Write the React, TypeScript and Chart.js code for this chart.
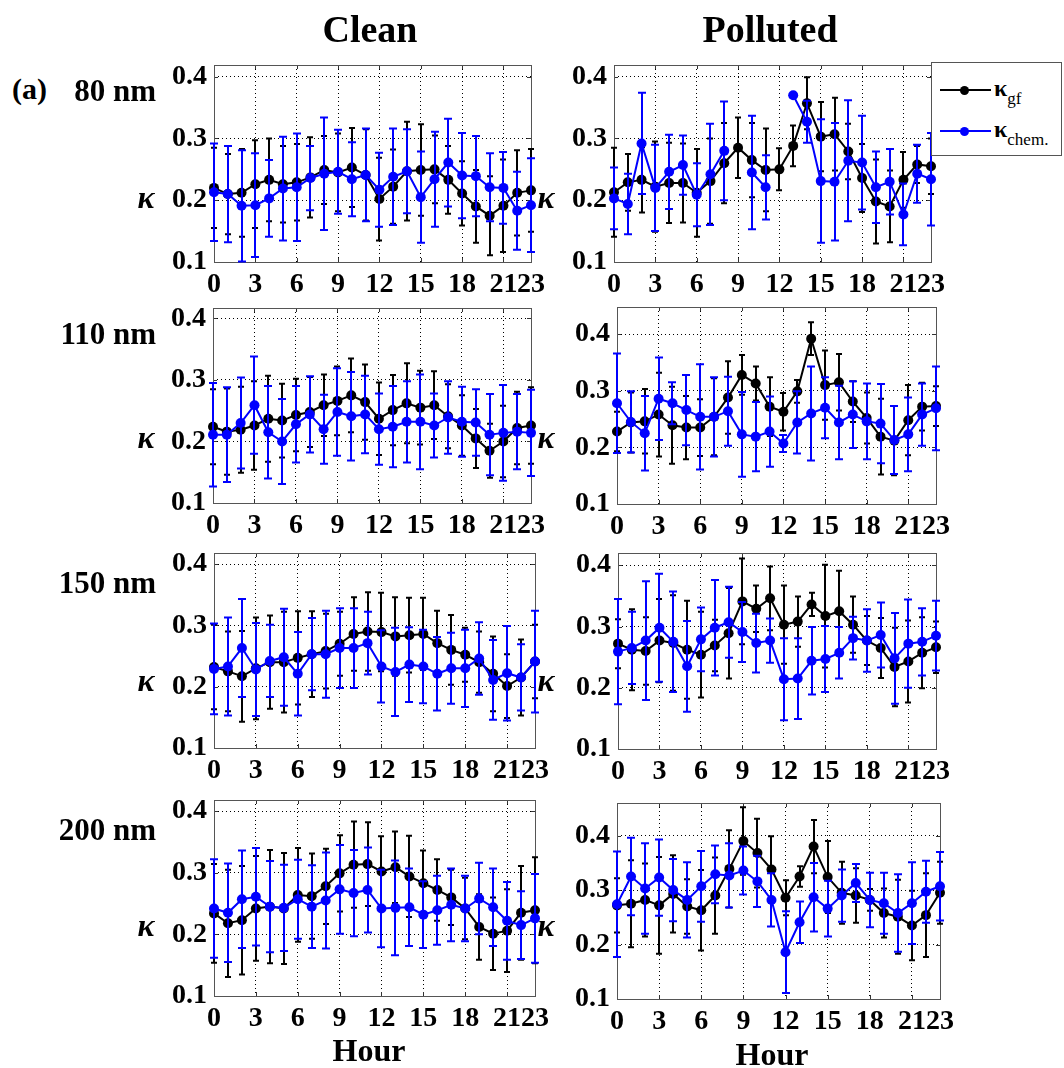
import React, { useEffect, useRef } from "react";
import { Chart, registerables } from "chart.js";
Chart.register(...registerables);

// ---------- data ----------
const hours = [0, 1, 2, 3, 4, 5, 6, 7, 8, 9, 10, 11, 12, 13, 14, 15, 16, 17, 18, 19, 20, 21, 22, 23];
const xTickValues = [0, 3, 6, 9, 12, 15, 18, 21, 23];
const yTickValues = [0.1, 0.2, 0.3, 0.4];
const seriesNames = ["κgf", "κchem."];
const columnTitles = ["Clean", "Polluted"];
const rowTitles = ["80 nm", "110 nm", "150 nm", "200 nm"];

// Clean, 80 nm
const clean80Gf = [0.220, 0.210, 0.212, 0.226, 0.233, 0.226, 0.229, 0.237, 0.249, 0.245, 0.253, 0.241, 0.202, 0.222, 0.247, 0.249, 0.250, 0.233, 0.211, 0.190, 0.175, 0.191, 0.212, 0.216];
const clean80GfErr = [0.065, 0.065, 0.071, 0.071, 0.067, 0.062, 0.062, 0.065, 0.055, 0.063, 0.064, 0.074, 0.067, 0.060, 0.080, 0.074, 0.055, 0.055, 0.052, 0.059, 0.064, 0.075, 0.069, 0.067];
const clean80Chem = [0.213, 0.210, 0.191, 0.192, 0.203, 0.219, 0.221, 0.236, 0.243, 0.246, 0.234, 0.241, 0.217, 0.238, 0.247, 0.205, 0.234, 0.261, 0.240, 0.239, 0.221, 0.220, 0.183, 0.192];
const clean80ChemErr = [0.079, 0.078, 0.090, 0.084, 0.062, 0.084, 0.087, 0.052, 0.091, 0.068, 0.060, 0.075, 0.060, 0.078, 0.068, 0.074, 0.077, 0.071, 0.069, 0.065, 0.055, 0.058, 0.063, 0.076];

// Polluted, 80 nm
const poll80Gf = [0.213, 0.229, 0.233, 0.222, 0.228, 0.228, 0.212, 0.231, 0.260, 0.285, 0.265, 0.249, 0.250, 0.288, 0.357, 0.303, 0.307, 0.279, 0.236, 0.198, 0.190, 0.233, 0.258, 0.255];
const poll80GfErr = [0.072, 0.046, 0.053, 0.073, 0.065, 0.064, 0.071, 0.069, 0.065, 0.049, 0.060, 0.067, 0.034, 0.033, 0.042, 0.056, 0.059, 0.045, 0.055, 0.068, 0.058, 0.045, 0.030, 0.045];
const poll80Chem = [0.203, 0.194, 0.292, 0.220, 0.246, 0.257, 0.209, 0.242, 0.280, null, 0.245, 0.221, null, 0.370, 0.327, 0.231, 0.230, 0.264, 0.261, 0.221, 0.230, 0.177, 0.243, 0.234];
const poll80ChemErr = [0.050, 0.049, 0.082, 0.070, 0.060, 0.048, 0.051, 0.082, 0.080, null, 0.092, 0.052, null, 0.000, 0.034, 0.100, 0.095, 0.098, 0.076, 0.058, 0.053, 0.050, 0.047, 0.075];

// Clean, 110 nm
const clean110Gf = [0.224, 0.216, 0.219, 0.226, 0.237, 0.234, 0.243, 0.248, 0.259, 0.266, 0.275, 0.264, 0.237, 0.251, 0.262, 0.255, 0.259, 0.241, 0.226, 0.205, 0.185, 0.200, 0.222, 0.226];
const clean110GfErr = [0.061, 0.070, 0.070, 0.072, 0.070, 0.060, 0.059, 0.057, 0.050, 0.056, 0.060, 0.061, 0.059, 0.057, 0.065, 0.060, 0.055, 0.052, 0.049, 0.048, 0.044, 0.058, 0.059, 0.062];
const clean110Chem = [0.211, 0.211, 0.230, 0.259, 0.215, 0.200, 0.228, 0.244, 0.220, 0.248, 0.241, 0.244, 0.220, 0.224, 0.232, 0.232, 0.226, 0.239, 0.232, 0.231, 0.211, 0.214, 0.216, 0.214];
const clean110ChemErr = [0.084, 0.077, 0.074, 0.079, 0.075, 0.069, 0.062, 0.062, 0.056, 0.071, 0.072, 0.063, 0.058, 0.066, 0.066, 0.077, 0.052, 0.059, 0.057, 0.054, 0.066, 0.078, 0.061, 0.070];

// Polluted, 110 nm
const poll110Gf = [0.228, 0.244, 0.246, 0.258, 0.239, 0.235, 0.235, 0.254, 0.288, 0.328, 0.313, 0.272, 0.263, 0.299, 0.392, 0.310, 0.315, 0.281, 0.252, 0.219, 0.212, 0.248, 0.272, 0.273];
const poll110GfErr = [0.035, 0.053, 0.057, 0.074, 0.068, 0.056, 0.050, 0.068, 0.064, 0.035, 0.030, 0.052, 0.033, 0.020, 0.029, 0.061, 0.050, 0.036, 0.045, 0.067, 0.061, 0.062, 0.042, 0.035];
const poll110Chem = [0.278, 0.245, 0.225, 0.286, 0.278, 0.266, 0.254, 0.254, 0.264, 0.223, 0.219, 0.228, 0.207, 0.244, 0.260, 0.270, 0.244, 0.258, 0.246, 0.242, 0.213, 0.223, 0.258, 0.269];
const poll110ChemErr = [0.088, 0.054, 0.066, 0.073, 0.037, 0.062, 0.093, 0.070, 0.061, 0.075, 0.061, 0.062, 0.015, 0.055, 0.083, 0.054, 0.065, 0.059, 0.067, 0.070, 0.060, 0.065, 0.055, 0.074];

// Clean, 150 nm
const clean150Gf = [0.232, 0.225, 0.217, 0.230, 0.240, 0.240, 0.247, 0.253, 0.258, 0.270, 0.286, 0.290, 0.289, 0.282, 0.284, 0.286, 0.271, 0.260, 0.252, 0.240, 0.221, 0.201, 0.215, 0.241];
const clean150GfErr = [0.069, 0.065, 0.074, 0.083, 0.076, 0.082, 0.076, 0.070, 0.061, 0.052, 0.060, 0.064, 0.064, 0.064, 0.061, 0.059, 0.053, 0.057, 0.044, 0.050, 0.061, 0.052, 0.062, 0.060];
const clean150Chem = [0.229, 0.233, 0.263, 0.228, 0.242, 0.248, 0.221, 0.253, 0.253, 0.263, 0.263, 0.271, 0.233, 0.224, 0.236, 0.233, 0.221, 0.230, 0.230, 0.246, 0.211, 0.222, 0.215, 0.241];
const clean150ChemErr = [0.074, 0.080, 0.080, 0.076, 0.059, 0.079, 0.068, 0.059, 0.071, 0.065, 0.065, 0.051, 0.059, 0.072, 0.061, 0.060, 0.060, 0.058, 0.063, 0.059, 0.065, 0.077, 0.054, 0.083];

// Polluted, 150 nm
const poll150Gf = [0.272, 0.262, 0.260, 0.277, 0.273, 0.262, 0.254, 0.269, 0.289, 0.341, 0.329, 0.346, 0.303, 0.308, 0.336, 0.317, 0.325, 0.303, 0.277, 0.265, 0.234, 0.243, 0.257, 0.266];
const poll150GfErr = [0.040, 0.066, 0.055, 0.068, 0.078, 0.080, 0.070, 0.042, 0.074, 0.070, 0.038, 0.052, 0.064, 0.041, 0.019, 0.084, 0.066, 0.046, 0.040, 0.049, 0.064, 0.067, 0.058, 0.042];
const poll150Chem = [0.259, 0.265, 0.277, 0.298, 0.275, 0.235, 0.279, 0.298, 0.307, 0.291, 0.273, 0.277, 0.214, 0.215, 0.244, 0.247, 0.257, 0.281, 0.277, 0.286, 0.248, 0.272, 0.275, 0.285];
const poll150ChemErr = [0.086, 0.059, 0.097, 0.088, 0.082, 0.074, 0.052, 0.078, 0.058, 0.049, 0.048, 0.036, 0.067, 0.066, 0.055, 0.054, 0.042, 0.035, 0.051, 0.053, 0.074, 0.072, 0.055, 0.057];

// Clean, 200 nm
const clean200Gf = [0.234, 0.218, 0.223, 0.242, 0.245, 0.242, 0.264, 0.262, 0.278, 0.299, 0.313, 0.314, 0.302, 0.309, 0.294, 0.283, 0.272, 0.260, 0.242, 0.212, 0.201, 0.206, 0.235, 0.239];
const clean200GfErr = [0.080, 0.087, 0.088, 0.085, 0.092, 0.090, 0.076, 0.069, 0.061, 0.062, 0.070, 0.068, 0.057, 0.058, 0.066, 0.053, 0.050, 0.045, 0.050, 0.053, 0.059, 0.067, 0.076, 0.086];
const clean200Chem = [0.242, 0.235, 0.257, 0.261, 0.245, 0.243, 0.257, 0.245, 0.255, 0.273, 0.267, 0.272, 0.242, 0.243, 0.244, 0.232, 0.239, 0.248, 0.242, 0.258, 0.244, 0.222, 0.215, 0.226];
const clean200ChemErr = [0.080, 0.080, 0.079, 0.079, 0.074, 0.070, 0.064, 0.067, 0.078, 0.072, 0.070, 0.069, 0.063, 0.077, 0.063, 0.054, 0.056, 0.059, 0.053, 0.058, 0.063, 0.063, 0.055, 0.072];

// Polluted, 200 nm
const poll200Gf = [0.272, 0.275, 0.282, 0.272, 0.293, 0.270, 0.263, 0.290, 0.339, 0.390, 0.368, 0.338, 0.286, 0.325, 0.380, 0.324, 0.295, 0.290, 0.282, 0.258, 0.251, 0.235, 0.254, 0.295];
const poll200GfErr = [0.050, 0.080, 0.067, 0.089, 0.071, 0.050, 0.074, 0.070, 0.071, 0.062, 0.063, 0.061, 0.032, 0.019, 0.049, 0.066, 0.057, 0.050, 0.020, 0.045, 0.068, 0.064, 0.077, 0.057];
const poll200Chem = [0.274, 0.325, 0.303, 0.323, 0.300, 0.282, 0.307, 0.329, 0.327, 0.336, 0.316, 0.282, 0.186, 0.241, 0.287, 0.266, 0.290, 0.313, 0.282, 0.276, 0.258, 0.276, 0.297, 0.307];
const poll200ChemErr = [0.097, 0.071, 0.083, 0.070, 0.057, 0.069, 0.065, 0.053, 0.059, 0.044, 0.047, 0.049, 0.075, 0.038, 0.063, 0.051, 0.048, 0.035, 0.050, 0.056, 0.071, 0.075, 0.057, 0.063];

// ---------- styling / layout ----------
const FONT = "'Liberation Serif', 'Times New Roman', serif";
const BLACK = "#000000";
const BLUE = "#0000ff";
const YW = 70; // width reserved for y tick labels
const XH = 45; // height reserved for x tick labels
const PADT = 20;
const PADR = 26;

const panels = [
  { gf: clean80Gf, gfErr: clean80GfErr, chem: clean80Chem, chemErr: clean80ChemErr, yMax: 0.419, left: 214, top: 65, right: 531, bottom: 262 },
  { gf: poll80Gf, gfErr: poll80GfErr, chem: poll80Chem, chemErr: poll80ChemErr, yMax: 0.419, left: 614, top: 65, right: 931, bottom: 262 },
  { gf: clean110Gf, gfErr: clean110GfErr, chem: clean110Chem, chemErr: clean110ChemErr, yMax: 0.417, left: 213, top: 308, right: 531, bottom: 503 },
  { gf: poll110Gf, gfErr: poll110GfErr, chem: poll110Chem, chemErr: poll110ChemErr, yMax: 0.448, left: 617, top: 307, right: 936, bottom: 504 },
  { gf: clean150Gf, gfErr: clean150GfErr, chem: clean150Chem, chemErr: clean150ChemErr, yMax: 0.418, left: 214, top: 553, right: 535, bottom: 748 },
  { gf: poll150Gf, gfErr: poll150GfErr, chem: poll150Chem, chemErr: poll150ChemErr, yMax: 0.42, left: 618, top: 553, right: 936, bottom: 749 },
  { gf: clean200Gf, gfErr: clean200GfErr, chem: clean200Chem, chemErr: clean200ChemErr, yMax: 0.418, left: 214, top: 800, right: 535, bottom: 996 },
  { gf: poll200Gf, gfErr: poll200GfErr, chem: poll200Chem, chemErr: poll200ChemErr, yMax: 0.46, left: 617, top: 803, right: 940, bottom: 999 },
];

const errorBarPlugin = {
  id: "errorBars",
  afterDatasetDraw(chart: any, args: any) {
    const ds: any = chart.data.datasets[args.index];
    const errs = ds.errors;
    if (!errs) return;
    const xs = chart.scales.x;
    const ys = chart.scales.y;
    const ctx = chart.ctx;
    ctx.save();
    ctx.strokeStyle = ds.borderColor;
    ctx.lineWidth = ds.errWidth;
    ctx.setLineDash([]);
    ds.data.forEach((pt: any, i: number) => {
      const e = errs[i];
      if (pt.y == null || e == null || e === 0) return;
      const x = Math.round(xs.getPixelForValue(pt.x));
      const yT = ys.getPixelForValue(pt.y + e);
      const yB = ys.getPixelForValue(pt.y - e);
      ctx.beginPath();
      ctx.moveTo(x, yT);
      ctx.lineTo(x, yB);
      ctx.moveTo(x - ds.capHalf, yT);
      ctx.lineTo(x + ds.capHalf, yT);
      ctx.moveTo(x - ds.capHalf, yB);
      ctx.lineTo(x + ds.capHalf, yB);
      ctx.stroke();
    });
    ctx.restore();
  },
};

const framePlugin = {
  id: "frame",
  beforeDatasetsDraw(chart: any) {
    const { left, right, top, bottom } = chart.chartArea;
    const ctx = chart.ctx;
    const xs = chart.scales.x;
    const ys = chart.scales.y;
    ctx.save();
    ctx.setLineDash([]);
    ctx.strokeStyle = "#333";
    ctx.lineWidth = 1;
    ctx.beginPath();
    xTickValues.forEach((v) => {
      const x = Math.round(xs.getPixelForValue(v)) + 0.5;
      ctx.moveTo(x, bottom);
      ctx.lineTo(x, bottom - 4);
      ctx.moveTo(x, top);
      ctx.lineTo(x, top + 4);
    });
    yTickValues.forEach((v) => {
      const y = Math.round(ys.getPixelForValue(v)) + 0.5;
      ctx.moveTo(left, y);
      ctx.lineTo(left + 4, y);
      ctx.moveTo(right, y);
      ctx.lineTo(right - 4, y);
    });
    ctx.stroke();
    ctx.strokeStyle = "#555";
    ctx.strokeRect(Math.round(left) + 0.5, Math.round(top) + 0.5, Math.round(right - left), Math.round(bottom - top));
    ctx.restore();
  },
};

function Panel(p: any) {
  const ref = useRef<HTMLCanvasElement>(null);
  const w = p.right - p.left + YW + PADR;
  const h = p.bottom - p.top + PADT + XH;
  useEffect(() => {
    const toPoints = (vals: (number | null)[]) => hours.map((hr, i) => ({ x: hr, y: vals[i] }));
    const tickFont = { family: FONT, size: 28, weight: "bold" as const };
    const chart = new Chart(ref.current as HTMLCanvasElement, {
      type: "line",
      data: {
        datasets: [
          {
            label: seriesNames[0],
            data: toPoints(p.gf),
            errors: p.gfErr,
            errWidth: 2,
            capHalf: 3,
            borderColor: BLACK,
            backgroundColor: BLACK,
            borderWidth: 2,
            pointRadius: 5,
            pointHoverRadius: 5,
            pointBorderWidth: 0,
            spanGaps: false,
            clip: false,
            order: 1,
          } as any,
          {
            label: seriesNames[1],
            data: toPoints(p.chem),
            errors: p.chemErr,
            errWidth: 2,
            capHalf: 4,
            borderColor: BLUE,
            backgroundColor: BLUE,
            borderWidth: 2,
            pointRadius: 5,
            pointHoverRadius: 5,
            pointBorderWidth: 0,
            spanGaps: false,
            clip: false,
            order: 0,
          } as any,
        ],
      },
      options: {
        animation: false,
        responsive: false,
        devicePixelRatio: 1,
        events: [],
        layout: { padding: { left: 0, right: PADR, top: PADT, bottom: 0 } },
        plugins: { legend: { display: false }, tooltip: { enabled: false } },
        scales: {
          x: {
            type: "linear",
            min: 0,
            max: 23,
            afterBuildTicks: (s: any) => {
              s.ticks = xTickValues.map((v) => ({ value: v }));
            },
            afterFit: (s: any) => {
              s.height = XH;
              s.paddingLeft = 0;
              s.paddingRight = 0;
            },
            ticks: {
              autoSkip: false,
              maxRotation: 0,
              minRotation: 0,
              padding: 6,
              color: BLACK,
              font: tickFont,
              callback: (v: any) => String(v),
            },
            grid: { color: BLACK, lineWidth: 1, drawTicks: false },
            border: { display: false, dash: [1, 3] },
          },
          y: {
            type: "linear",
            min: 0.1,
            max: p.yMax,
            afterBuildTicks: (s: any) => {
              s.ticks = yTickValues.map((v) => ({ value: v }));
            },
            afterFit: (s: any) => {
              s.width = YW;
              s.paddingTop = 0;
              s.paddingBottom = 0;
            },
            ticks: {
              padding: 7,
              color: BLACK,
              font: tickFont,
              callback: (v: any) => Number(v).toFixed(1),
            },
            grid: { color: BLACK, lineWidth: 1, drawTicks: false },
            border: { display: false, dash: [1, 3] },
          },
        },
      },
      plugins: [errorBarPlugin, framePlugin],
    } as any);
    return () => chart.destroy();
  }, []);
  return (
    <canvas
      ref={ref}
      width={w}
      height={h}
      style={{ position: "absolute", left: p.left - YW, top: p.top - PADT, width: w, height: h }}
    />
  );
}

function Txt(props: any) {
  const { x, y, size, children, italic, anchor } = props;
  const tx = anchor === "left" ? "0" : anchor === "right" ? "-100%" : "-50%";
  return (
    <div
      style={{
        position: "absolute",
        left: x,
        top: y,
        transform: `translate(${tx}, -50%)`,
        fontFamily: FONT,
        fontWeight: "bold",
        fontStyle: italic ? "italic" : "normal",
        fontSize: size,
        lineHeight: 1,
        whiteSpace: "nowrap",
        color: "#000",
        zIndex: 3,
      }}
    >
      {children}
    </div>
  );
}

function LegendRow(props: any) {
  const { top, color, sub } = props;
  return (
    <div style={{ position: "absolute", left: 0, top: 0, width: "100%", height: "100%" }}>
      <div style={{ position: "absolute", left: 8, top: top - 1, width: 51, height: 2, background: color }} />
      <div style={{ position: "absolute", left: 28, top: top - 4.5, width: 9, height: 9, borderRadius: "50%", background: color }} />
      <div
        style={{
          position: "absolute",
          left: 62,
          top: top - 14,
          fontFamily: FONT,
          fontWeight: "bold",
          fontSize: 24,
          lineHeight: 1,
          whiteSpace: "nowrap",
          color: "#000",
        }}
      >
        κ<span style={{ fontSize: 17, fontWeight: "normal", position: "relative", top: 8 }}>{sub}</span>
      </div>
    </div>
  );
}

export default function App() {
  const rowLabelY = [90, 333, 582, 829];
  const kappaY = [197, 437, 680, 925];
  return (
    <div style={{ position: "absolute", left: 0, top: 0, width: 1064, height: 1068, background: "#fff", overflow: "hidden" }}>
      {panels.map((p, i) => (
        <Panel key={i} {...p} />
      ))}
      <Txt x={370} y={29} size={38}>{columnTitles[0]}</Txt>
      <Txt x={770} y={29} size={38}>{columnTitles[1]}</Txt>
      <Txt x={12} y={89} size={30} anchor="left">(a)</Txt>
      {rowTitles.map((t, i) => (
        <Txt key={t} x={156} y={rowLabelY[i]} size={31} anchor="right">{t}</Txt>
      ))}
      {kappaY.map((y, i) => (
        <React.Fragment key={i}>
          <Txt x={146} y={y} size={32} italic>κ</Txt>
          <Txt x={546} y={y} size={32} italic>κ</Txt>
        </React.Fragment>
      ))}
      <Txt x={369} y={1050} size={32}>Hour</Txt>
      <Txt x={772} y={1054} size={32}>Hour</Txt>
      <div
        style={{
          position: "absolute",
          left: 931,
          top: 62,
          width: 131,
          height: 94,
          border: "1px solid #555",
          background: "#fff",
          boxSizing: "border-box",
          zIndex: 4,
        }}
      >
        <LegendRow top={27} color={BLACK} sub="gf" />
        <LegendRow top={68} color={BLUE} sub="chem." />
      </div>
    </div>
  );
}
